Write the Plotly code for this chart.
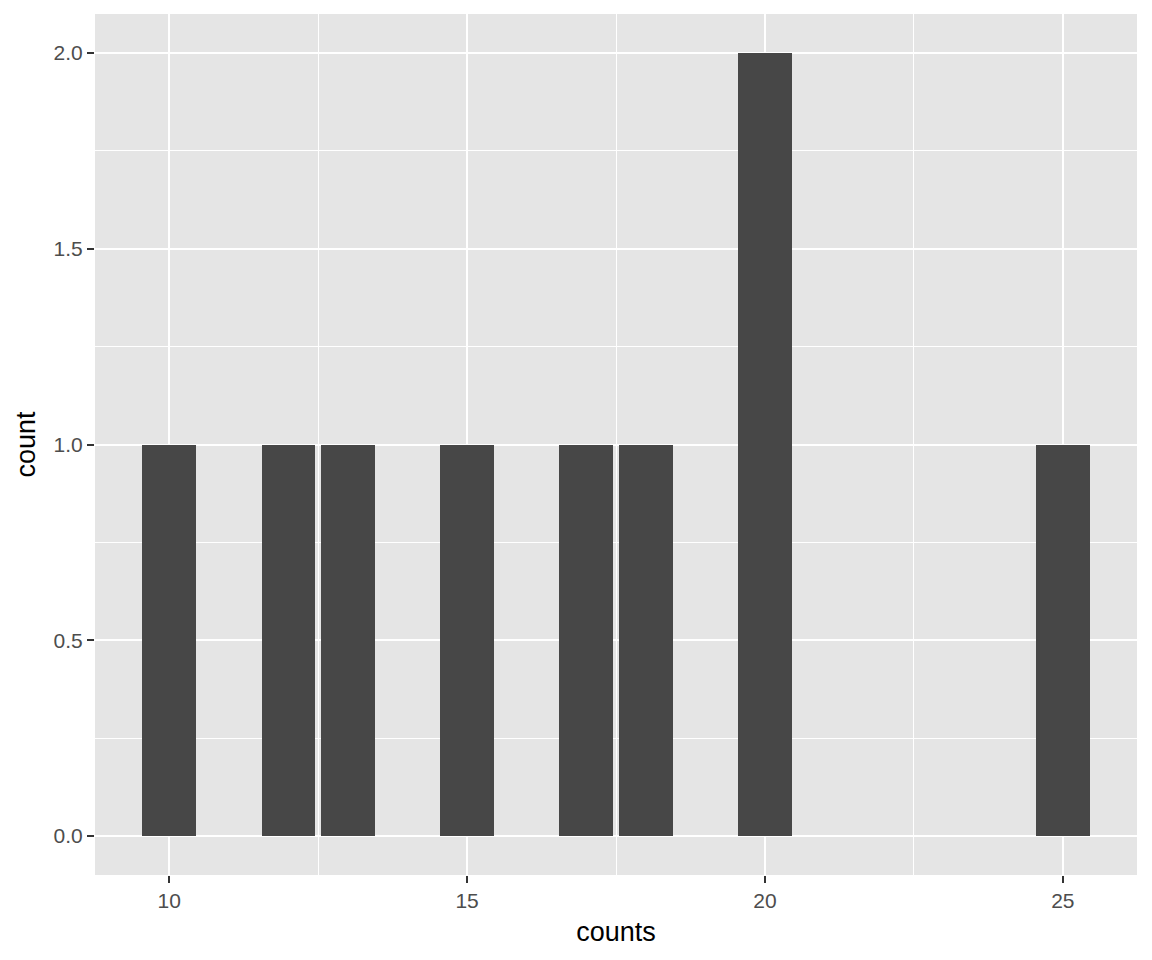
import plotly.graph_objects as go

counts_values = [10, 12, 13, 15, 17, 18, 20, 25]
count_heights = [1, 1, 1, 1, 1, 1, 2, 1]
x_ticks = [10, 15, 20, 25]
y_ticks = [0.0, 0.5, 1.0, 1.5, 2.0]
y_tick_labels = ["0.0", "0.5", "1.0", "1.5", "2.0"]

fig = go.Figure()
fig.add_trace(go.Bar(
    x=counts_values, y=count_heights, width=0.9,
    marker=dict(color="#474747", line=dict(width=0)),
    showlegend=False,
))

# page body has an 8px margin; compensate so the panel lands at the same pixels
fig.update_layout(
    width=1144, height=952,
    margin=dict(l=87, r=15, t=6, b=85, pad=0),
    paper_bgcolor="white",
    plot_bgcolor="#E5E5E5",
    font=dict(family="Liberation Sans, Arial, sans-serif"),
    bargap=0,
)
fig.update_xaxes(
    range=[8.755, 26.245],
    tickvals=x_ticks, ticktext=[str(v) for v in x_ticks],
    showgrid=True, gridcolor="white", gridwidth=2.2,
    minor=dict(tickvals=[12.5, 17.5, 22.5], showgrid=True, gridcolor="white", gridwidth=1.1, ticks=""),
    ticks="outside", ticklen=7, tickwidth=2, tickcolor="#333333",
    tickfont=dict(size=21, color="#4D4D4D"),
    title=dict(text="counts", font=dict(size=27, color="black"), standoff=10),
    zeroline=False, showline=False,
)
fig.update_yaxes(
    range=[-0.1, 2.1],
    tickvals=y_ticks, ticktext=y_tick_labels,
    showgrid=True, gridcolor="white", gridwidth=2.2,
    minor=dict(tickvals=[0.25, 0.75, 1.25, 1.75], showgrid=True, gridcolor="white", gridwidth=1.1, ticks=""),
    ticks="outside", ticklen=7, tickwidth=2, tickcolor="#333333",
    tickfont=dict(size=21, color="#4D4D4D"),
    title=dict(text="count", font=dict(size=27, color="black"), standoff=10),
    zeroline=False, showline=False,
)

fig.write_html("out.html")
